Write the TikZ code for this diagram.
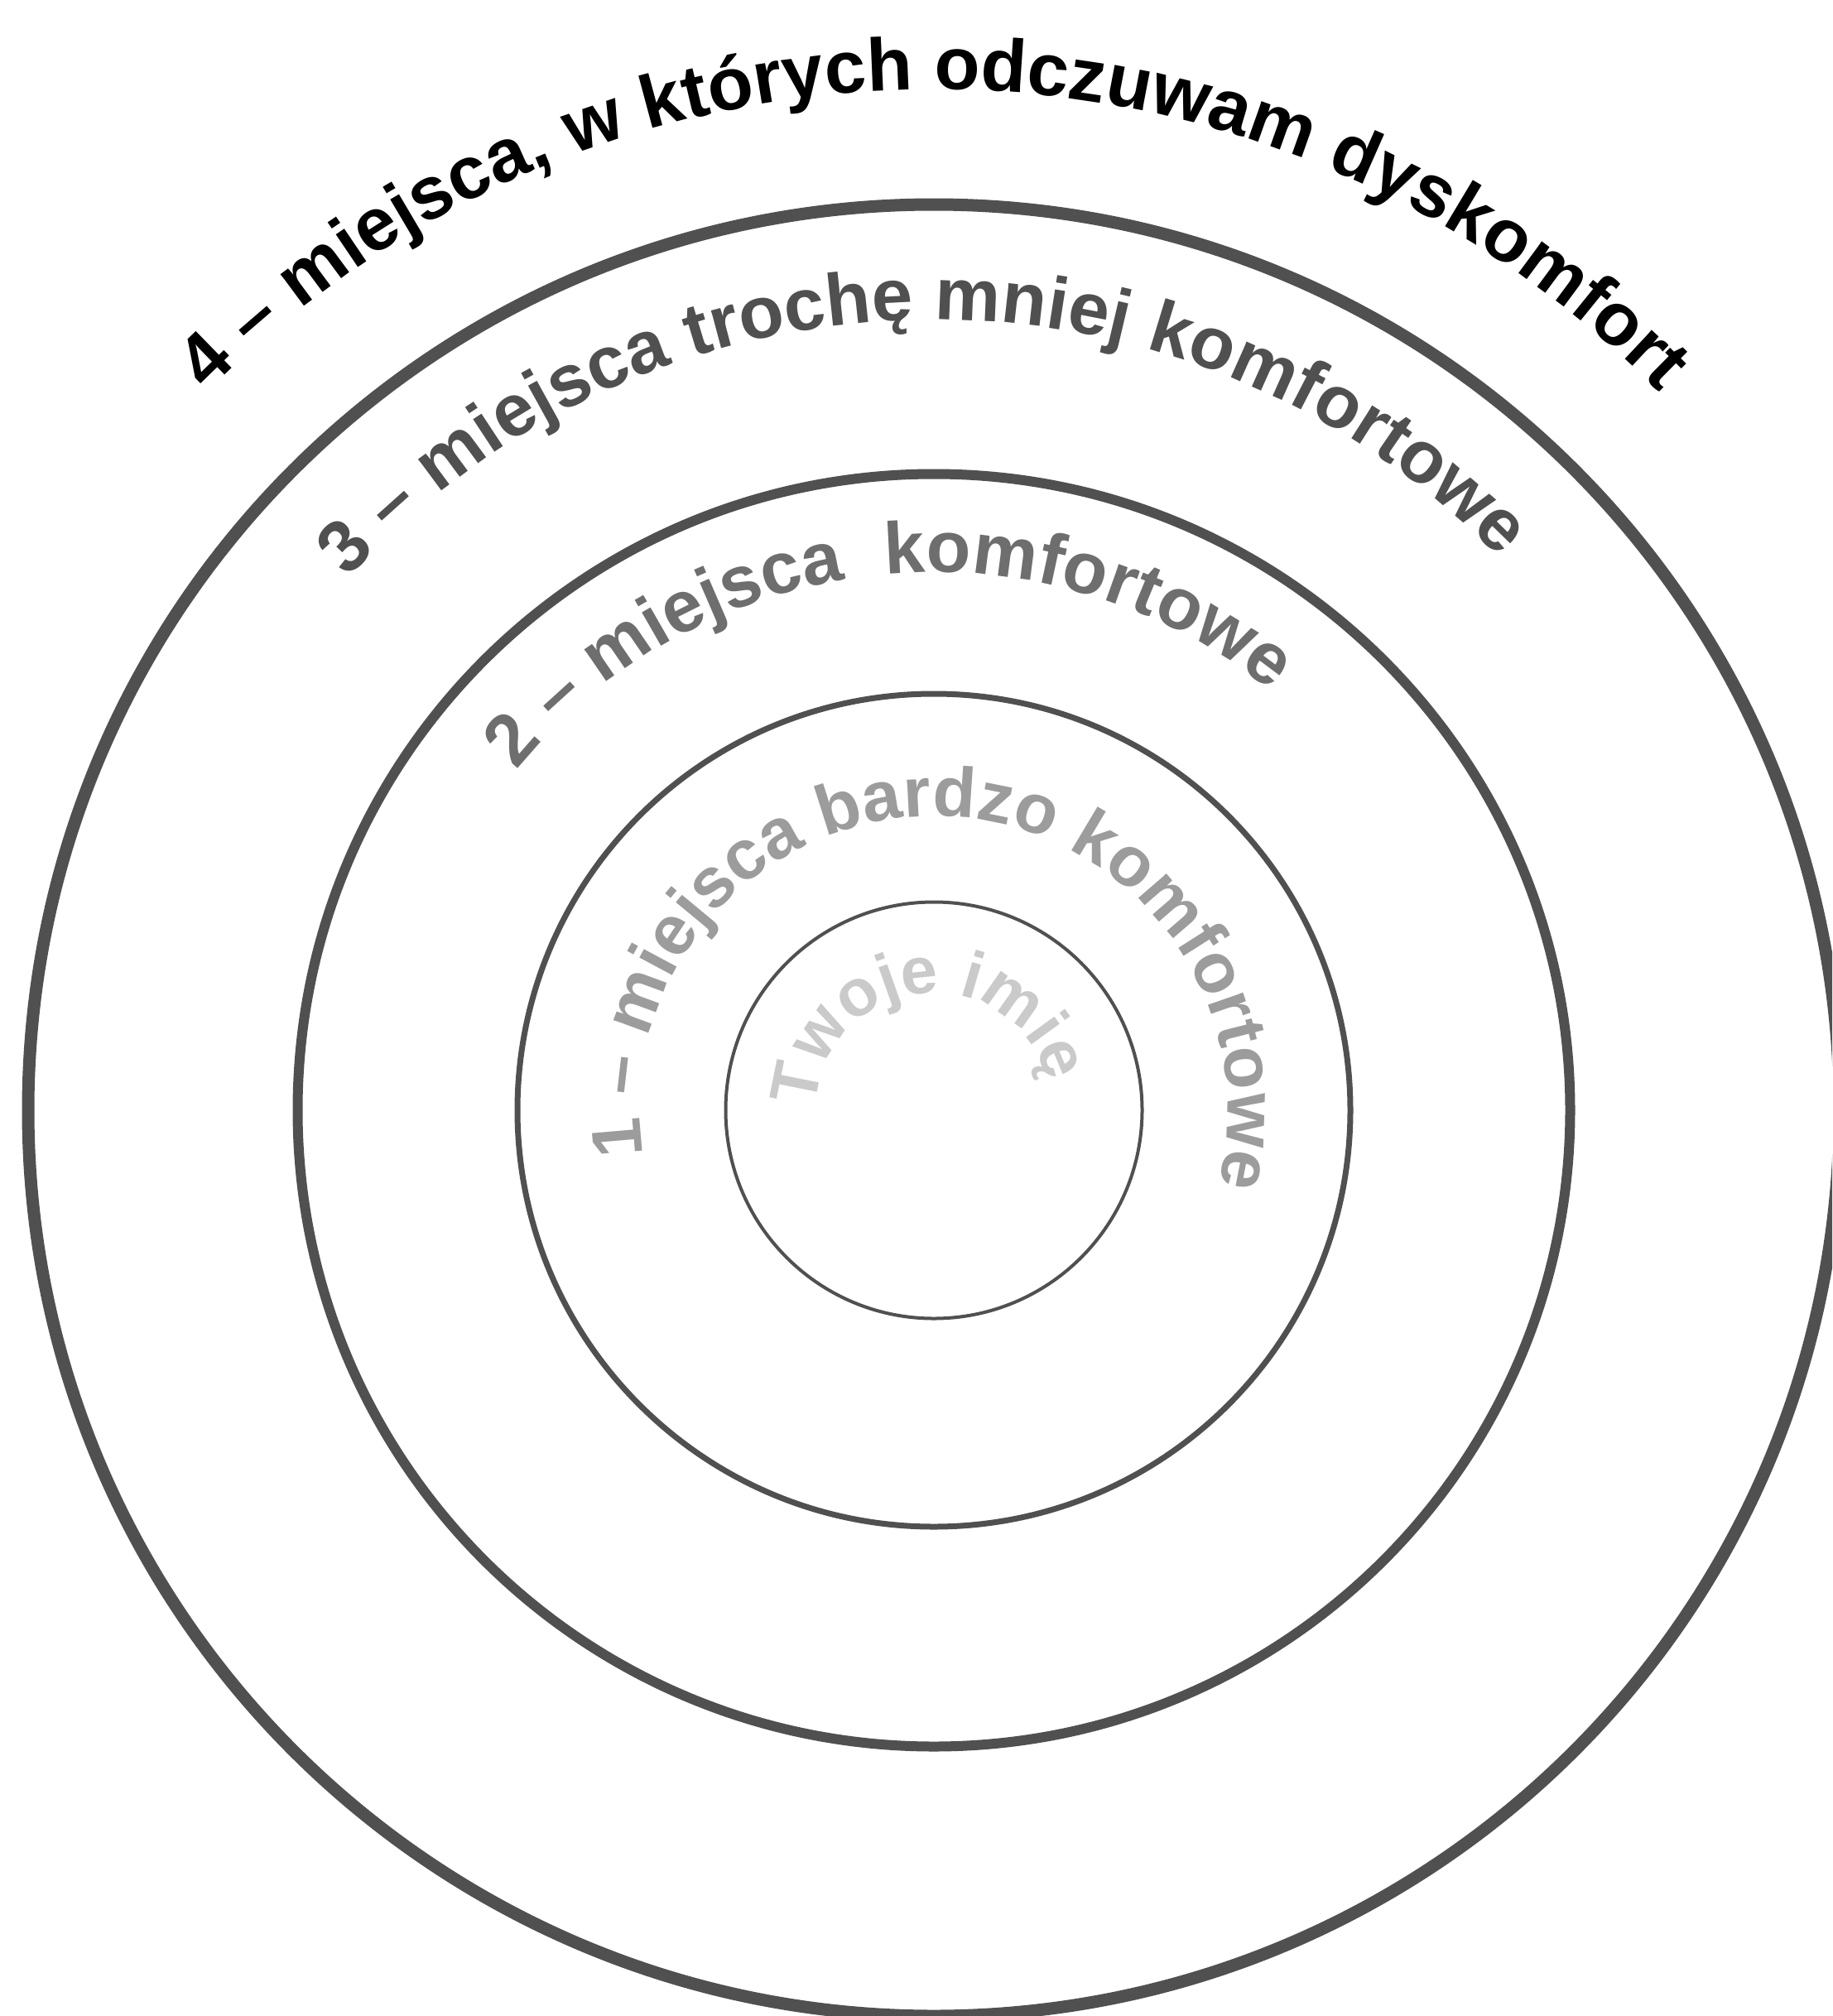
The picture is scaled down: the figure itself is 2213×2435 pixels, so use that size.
\documentclass[tikz,border=0pt]{standalone}
\usepackage{fontspec}
\setmainfont{Liberation Sans}
\usetikzlibrary{decorations.text}
\definecolor{ringcol}{HTML}{505050}
\definecolor{tfour}{HTML}{000000}
\definecolor{tthree}{HTML}{505050}
\definecolor{ttwo}{HTML}{6E6E6E}
\definecolor{tone}{HTML}{9C9C9C}
\definecolor{tzero}{HTML}{CACACA}
\tikzset{
  ring/.style={circle, draw=ringcol, inner sep=0pt, outer sep=0pt},
}
\begin{document}
\begin{tikzpicture}[x=1pt,y=1pt]
\useasboundingbox (0,0) rectangle (2213,-2435);
\clip (0,0) rectangle (2213,-2435);
\coordinate (C) at (1128,-1341);
\node[ring, line width=15pt, minimum size=2188pt] (r4) at (C) {};
\node[ring, line width=12pt, minimum size=1537pt] (r3) at (C) {};
\node[ring, line width=7pt, minimum size=1006pt] (r2) at (C) {};
\node[ring, line width=4pt, minimum size=503pt] (r1) at (C) {};
\begin{scope}[shift={(C)}]
\path[decorate, decoration={text along path, text align=center,
  text={|\fontsize{90}{90}\selectfont\bfseries\color{tfour}|4 – miejsca, w których odczuwam dyskomfort}}]
  (190:1233) arc[start angle=190, end angle=-10, radius=1233];
\path[decorate, decoration={text along path, text align=center,
  text={|\fontsize{89}{89}\selectfont\bfseries\color{tthree}|3 – miejsca trochę mniej komfortowe}}]
  (191:955) arc[start angle=191, end angle=-9, radius=955];
\path[decorate, decoration={text along path, text align=center,
  text={|\fontsize{88}{88}\selectfont\bfseries\color{ttwo}|2 – miejsca{\ }{\ }komfortowe}}]
  (196:650) arc[start angle=196, end angle=-4, radius=650];
\path[decorate, decoration={text along path, text align=center,
  text={|\fontsize{85}{85}\selectfont\bfseries\color{tone}|1 – miejsca bardzo komfortowe}}]
  (207:355) arc[start angle=207, end angle=-33, radius=355];
\path[decorate, decoration={text along path, text align=center,
  text={|\fontsize{80}{80}\selectfont\bfseries\color{tzero}|Twoje imię}}]
  (216:142) arc[start angle=216, end angle=-24, radius=142];
\end{scope}
\end{tikzpicture}
\end{document}
